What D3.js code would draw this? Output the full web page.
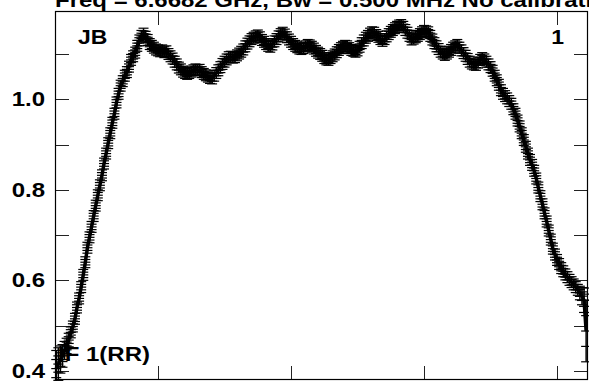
<!DOCTYPE html>
<html><head><meta charset="utf-8">
<script src="https://cdn.jsdelivr.net/npm/d3@7"></script>
<style>
body{margin:0;background:#fff}
svg{display:block}
text{font-family:"Liberation Sans",Arial,Helvetica,sans-serif;font-weight:bold;fill:#000}
</style></head><body>
<svg id="chart" width="589" height="381"></svg>
<script>
// ---- data ----
const titleText = "Freq = 6.6682 GHz, Bw = 0.500 MHz  No calibration";
const sourceLabel = "JB";
const panelLabel = "1";
const ifLabel = "IF 1(RR)";
const firstChannel = 15;
const amplitude = [
 0.405,0.415,0.425,0.433,0.445,0.455,0.468,0.485,0.498,0.515,
 0.540,0.560,0.585,0.612,0.640,0.672,0.695,0.718,0.742,0.765,
 0.788,0.810,0.832,0.858,0.880,0.903,0.925,0.948,0.968,0.993,
 1.012,1.030,1.040,1.052,1.060,1.072,1.087,1.095,1.103,1.118,
 1.130,1.140,1.145,1.138,1.131,1.122,1.118,1.114,1.110,1.108,
 1.106,1.108,1.104,1.106,1.100,1.095,1.090,1.083,1.077,1.070,
 1.066,1.061,1.058,1.056,1.058,1.061,1.064,1.066,1.064,1.065,
 1.060,1.056,1.053,1.050,1.047,1.046,1.052,1.058,1.064,1.071,
 1.078,1.083,1.088,1.093,1.094,1.092,1.093,1.097,1.101,1.105,
 1.110,1.117,1.123,1.128,1.133,1.136,1.139,1.141,1.137,1.131,
 1.127,1.122,1.118,1.116,1.121,1.128,1.133,1.139,1.144,1.147,
 1.143,1.137,1.132,1.127,1.122,1.118,1.115,1.112,1.111,1.113,
 1.117,1.120,1.119,1.116,1.112,1.107,1.103,1.100,1.096,1.091,
 1.088,1.087,1.091,1.095,1.099,1.104,1.109,1.113,1.116,1.118,
 1.117,1.113,1.109,1.107,1.105,1.108,1.116,1.124,1.130,1.136,
 1.140,1.145,1.148,1.147,1.142,1.138,1.133,1.129,1.133,1.139,
 1.144,1.149,1.153,1.157,1.160,1.163,1.164,1.160,1.153,1.147,
 1.140,1.132,1.134,1.137,1.140,1.144,1.148,1.151,1.150,1.148,
 1.140,1.132,1.124,1.117,1.111,1.105,1.101,1.098,1.101,1.105,
 1.109,1.114,1.117,1.120,1.114,1.108,1.102,1.096,1.089,1.083,
 1.079,1.077,1.076,1.081,1.087,1.091,1.088,1.083,1.077,1.071,
 1.063,1.052,1.042,1.032,1.020,1.012,1.007,1.002,0.996,0.990,
 0.978,0.968,0.953,0.940,0.925,0.910,0.895,0.880,0.866,0.855,
 0.842,0.825,0.805,0.786,0.768,0.748,0.730,0.710,0.690,0.670,
 0.657,0.645,0.636,0.627,0.620,0.613,0.607,0.601,0.596,0.591,
 0.585,0.579,0.572,0.565,0.556,0.488
];
const typicalError = 0.012;
const errChannels = [15,16,17,18,19,20,21,267,268,269,270];
const errValues   = [0.040,0.036,0.030,0.025,0.020,0.017,0.015,0.015,0.019,0.027,0.068];
const yLabelValues = [0.4,0.6,0.8,1.0];
const yLabelTexts  = ["0.4","0.6","0.8","1.0"];
const yTickValues  = [0.4,0.5,0.6,0.7,0.8,0.9,1.0,1.1];
const xTickChannels = [64,128,192,256];

// ---- layout ----
const svg = d3.select("#chart");
const L = 55, R = 588, T = 11, B = 379;
const x = d3.scaleLinear().domain([14.4, 270.9]).range([L, R]);
const y = d3.scaleLinear().domain([0.382, 1.195]).range([B, T]);
const SX = 1.2;

const points = amplitude.map((v, i) => {
  const ch = firstChannel + i;
  const k = errChannels.indexOf(ch);
  return {ch, v, e: k >= 0 ? errValues[k] : typicalError};
});

// title (clipped at top, as in the reference)
svg.append("text").attr("transform", `translate(55,7) scale(${SX},1)`)
  .attr("font-size", 20).text(titleText);

// ticks
const tk = svg.append("g").attr("stroke", "#222").attr("stroke-width", 1);
yTickValues.forEach(v => {
  const yy = Math.round(y(v)) + 0.5;
  tk.append("line").attr("x1", L).attr("x2", L + 14).attr("y1", yy).attr("y2", yy);
  tk.append("line").attr("x1", R - 14).attr("x2", R).attr("y1", yy).attr("y2", yy);
});
xTickChannels.forEach(c => {
  const xx = Math.round(x(c)) + 0.5;
  tk.append("line").attr("x1", xx).attr("x2", xx).attr("y1", T).attr("y2", T + 14);
  tk.append("line").attr("x1", xx).attr("x2", xx).attr("y1", B - 13).attr("y2", B);
});

// y labels
yLabelValues.forEach((v, i) => {
  svg.append("text").attr("text-anchor", "end")
    .attr("transform", `translate(45,${y(v) + 7}) scale(${SX},1)`)
    .attr("font-size", 20).text(yLabelTexts[i]);
});

// data: error crosses
const g = svg.append("g");
const hw = 5;
points.forEach(p => {
  const cx = x(p.ch), cy = y(p.v), y1 = y(p.v + p.e), y2 = y(p.v - p.e);
  g.append("line").attr("x1", cx).attr("x2", cx).attr("y1", y1).attr("y2", y2)
    .attr("stroke", "#000").attr("stroke-width", 1.5);
  [y1, (y1 + cy) / 2, cy, (cy + y2) / 2, y2].forEach(yy => {
    g.append("line").attr("x1", cx - hw).attr("x2", cx + hw).attr("y1", yy).attr("y2", yy)
      .attr("stroke", "#000").attr("stroke-width", 1.2);
  });
});
g.append("path").datum(points)
  .attr("d", d3.line().x(p => x(p.ch)).y(p => y(p.v)))
  .attr("fill", "none").attr("stroke", "#000").attr("stroke-width", 3.5);

// frame
svg.append("rect").attr("x", L + 0.5).attr("y", T + 0.5).attr("width", R - L - 1).attr("height", B - T)
  .attr("fill", "none").attr("stroke", "#000").attr("stroke-width", 1.2);

// labels inside
svg.append("text").attr("transform", `translate(78,44) scale(1.15,1)`).attr("font-size", 20).text(sourceLabel);
svg.append("text").attr("text-anchor", "end").attr("transform", `translate(564,44) scale(1.15,1)`).attr("font-size", 20).text(panelLabel);
svg.append("text").attr("transform", `translate(58,361) scale(${SX},1)`).attr("font-size", 20).text(ifLabel);
</script>
</body></html>
